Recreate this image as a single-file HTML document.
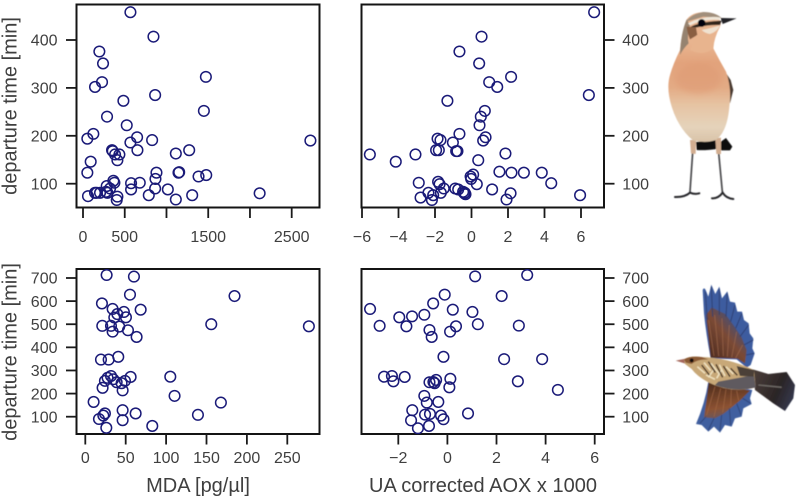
<!DOCTYPE html>
<html lang="en">
<head>
<meta charset="utf-8">
<title>Departure time scatter plots</title>
<style>
html,body{margin:0;padding:0;background:#fff;}
svg{display:block;filter:blur(0.3px);}
text{font-family:"Liberation Sans",sans-serif;fill:#3f3f3f;}
.tick-label{font-size:16px;}
.axis-title{font-size:20px;}
</style>
</head>
<body>
<svg id="chart" width="796" height="498" viewBox="0 0 796 498" xmlns="http://www.w3.org/2000/svg">
  <defs>
    <filter id="soft" x="-10%" y="-10%" width="120%" height="120%"><feGaussianBlur stdDeviation="1.6"/></filter>
    <filter id="softer" x="-30%" y="-30%" width="160%" height="160%"><feGaussianBlur stdDeviation="9"/></filter>
    <linearGradient id="breast" gradientUnits="userSpaceOnUse" x1="0" y1="130" x2="0" y2="425">
      <stop offset="0" stop-color="#e8b48f"/>
      <stop offset="0.2" stop-color="#e2a37c"/>
      <stop offset="0.45" stop-color="#e3ab85"/>
      <stop offset="0.62" stop-color="#e6c3a2"/>
      <stop offset="0.85" stop-color="#e5d3bb"/>
      <stop offset="1" stop-color="#d9c3a8"/>
    </linearGradient>
    <linearGradient id="upper-wing-fill" gradientUnits="userSpaceOnUse" x1="205" y1="250" x2="300" y2="170">
      <stop offset="0" stop-color="#4f2c20"/>
      <stop offset="0.6" stop-color="#7b4a35"/>
      <stop offset="1" stop-color="#4a4f72"/>
    </linearGradient>
    <linearGradient id="lower-wing-fill" gradientUnits="userSpaceOnUse" x1="230" y1="345" x2="250" y2="470">
      <stop offset="0" stop-color="#54301f"/>
      <stop offset="0.55" stop-color="#8c5232"/>
      <stop offset="1" stop-color="#4d5a85"/>
    </linearGradient>
    <linearGradient id="tail-fill" gradientUnits="userSpaceOnUse" x1="345" y1="330" x2="460" y2="380">
      <stop offset="0" stop-color="#463a36"/>
      <stop offset="0.6" stop-color="#2b2526"/>
      <stop offset="1" stop-color="#33364a"/>
    </linearGradient>
  </defs>

  <text class="axis-title" text-anchor="middle" transform="translate(16.5,106) rotate(-90)">departure time [min]</text>
  <text class="axis-title" text-anchor="middle" transform="translate(16.5,352) rotate(-90)">departure time [min]</text>
  <text class="axis-title" text-anchor="middle" x="198" y="492">MDA [pg/µl]</text>
  <text class="axis-title" text-anchor="middle" x="483" y="492">UA corrected AOX x 1000</text>

  <g id="panels"></g>

  <g transform="translate(640,0) scale(0.3333)">
    <g filter="url(#soft)">
      <g stroke="#47474a" fill="none" stroke-linecap="round">
        <path d="M158 458 L150 575" stroke-width="5"/>
        <path d="M236 458 L247 575" stroke-width="5"/>
        <path d="M105 591 Q135 592 150 578 Q165 584 178 580" stroke="#26262a" stroke-width="6"/>
        <path d="M216 595 Q235 596 248 578 Q258 595 280 597" stroke="#26262a" stroke-width="6"/>
      </g>
      <path d="M168 426 L228 420 L230 447 Q195 452 170 450 Z" fill="#0e0e0e"/>
      <path d="M243 425 L258 414 L277 440 L270 451 L243 451 Z" fill="#111"/>
      <path d="M150 420 L168 420 L167 462 L153 460 Z" fill="#d2ad90"/>
      <path d="M226 415 L243 413 L243 462 L229 462 Z" fill="#d2ad90"/>
      <path d="M255 215 L272 240 L280 270 L270 310 L262 260 Z" fill="#4a3b30"/>
      <path d="M140 58 Q124 100 120 150 Q100 190 90 225 Q78 265 95 320 Q115 385 160 422 Q200 430 228 420 Q262 395 268 320 Q276 265 258 215 Q238 180 220 145 Q222 115 240 80 Q250 58 215 40 Q165 28 140 58 Z" fill="url(#breast)"/>
      <path d="M120 165 Q122 100 140 58 L150 75 Q140 110 146 130 Q130 145 120 165 Z" fill="#96836f"/>
      <path d="M137 65 Q155 42 190 36 Q225 36 245 54 L190 50 L150 62 Z" fill="#a18f7c"/>
      <path d="M144 70 Q190 46 240 52 L240 60 Q190 56 150 76 Z" fill="#efe6d8"/>
      <path d="M150 82 Q175 66 245 62 L240 75 Q200 74 172 82 Z" fill="#30271f"/>
      <path d="M185 90 Q215 84 240 76 Q232 95 210 102 Q195 100 185 90 Z" fill="#f0e2d0"/>
      <path d="M140 80 L168 82 L172 105 L150 118 Q142 100 140 80 Z" fill="#8a5e42"/>
      <path d="M170 105 Q195 110 215 100 L220 145 Q190 170 150 150 Z" fill="#e8b48e"/>
      <path d="M242 54 L290 55 L248 72 Z" fill="#222226"/>
      <circle cx="185" cy="69" r="11.5" fill="#060608"/>
      <ellipse cx="175" cy="235" rx="70" ry="45" fill="#df9a73" opacity="0.55" filter="url(#softer)"/>
    </g>
  </g>

  <g transform="translate(640,270) scale(0.3333)">
    <g filter="url(#soft)">
      <path d="M188 60 Q192 50 197 60 L205 80 L214 44 L226 72 L238 50 L246 85 L262 64 L270 95 L285 98 L292 125 L306 125 L312 150 L326 160 L329 190 L340 205 L337 235 L344 250 L332 285 L320 293 L290 268 L212 265 Q198 190 192 130 Z" fill="#3d5c9f"/>
      <path d="M198 135 L215 112 L235 122 L256 132 L281 166 L305 202 L320 240 L315 280 L292 266 L212 263 Z" fill="url(#upper-wing-fill)"/>
      <g stroke="#2d3f70" stroke-width="3" fill="none" opacity="0.9">
        <path d="M196 65 L202 150"/><path d="M214 50 L218 140"/><path d="M238 56 L238 135"/><path d="M262 70 L258 140"/><path d="M285 105 L272 155"/><path d="M306 130 L287 175"/><path d="M326 165 L300 200"/><path d="M340 210 L312 225"/><path d="M342 250 L318 255"/>
      </g>
      <g stroke="#a36c4e" stroke-width="2.5" fill="none" opacity="0.7">
        <path d="M222 258 L206 150"/><path d="M236 258 L224 135"/><path d="M250 258 L246 145"/><path d="M262 260 L268 165"/><path d="M275 262 L290 185"/><path d="M287 264 L308 225"/>
      </g>
      <path d="M205 335 L337 360 L330 385 L335 402 L310 415 L305 440 L285 445 L275 470 L255 465 L240 488 L222 470 L205 485 L185 465 L168 462 Q195 400 205 335 Z" fill="#3f5e9f"/>
      <path d="M206 338 L330 362 L300 392 L275 412 L250 432 L225 445 L192 442 Q200 390 206 338 Z" fill="url(#lower-wing-fill)"/>
      <g stroke="#a56a45" stroke-width="2.5" fill="none" opacity="0.7">
        <path d="M225 350 L200 435"/><path d="M242 355 L222 440"/><path d="M258 358 L248 428"/><path d="M274 360 L272 408"/><path d="M290 362 L296 392"/>
      </g>
      <g stroke="#2f4477" stroke-width="3" fill="none" opacity="0.9">
        <path d="M198 440 L180 460"/><path d="M222 445 L205 480"/><path d="M245 435 L240 482"/><path d="M268 415 L272 465"/><path d="M290 400 L303 435"/><path d="M308 385 L332 400"/>
      </g>
      <path d="M338 298 L385 312 L440 306 L465 345 L460 385 L435 423 L400 400 L345 360 Z" fill="url(#tail-fill)"/>
      <path d="M355 345 L425 352" stroke="#6f6a66" stroke-width="4" fill="none"/>
      <path d="M107 272 L137 266 L136 281 Z" fill="#a5685c"/>
      <path d="M132 268 Q150 257 182 261 Q262 262 342 300 L347 352 Q275 372 205 337 Q170 318 155 297 L135 282 Z" fill="#c8a878"/>
      <path d="M132 268 Q150 257 185 261 L205 268 Q170 268 155 282 L137 278 Z" fill="#8b5a35"/>
      <path d="M235 335 L342 315 L347 352 Q285 368 225 345 Z" fill="#5f5a5e"/>
      <path d="M290 288 L342 300 L342 320 L300 318 Z" fill="#4c4038"/>
      <g stroke="#efe1bf" stroke-width="4.5" fill="none">
        <path d="M172 290 L195 310"/><path d="M192 278 L212 302"/><path d="M213 280 L238 312"/><path d="M238 284 L255 318"/><path d="M258 290 L280 312"/><path d="M198 315 L225 328"/><path d="M222 298 L205 322"/><path d="M245 300 L230 325"/>
      </g>
      <g stroke="#38261a" stroke-width="4" fill="none">
        <path d="M185 285 L208 315"/><path d="M205 275 L226 308"/><path d="M228 283 L248 322"/><path d="M250 288 L270 320"/><path d="M272 295 L292 316"/>
      </g>
      <circle cx="155" cy="271" r="6" fill="#161010"/>
    </g>
  </g>

  <script>
    var mdaTopX = [568,844,196,240,228,144,1472,864,484,1448,288,524,124,52,648,568,828,2724,348,356,652,1272,1112,384,436,412,92,52,880,1152,1144,1384,1476,868,364,376,680,576,284,324,576,864,1016,164,204,292,144,2116,60,412,404,788,1308,1112,276];
    var mdaTopY = [458,407,376,351,312,302,323,285,273,252,240,222,204,194,197,186,191,190,170,168,170,170,163,161,161,149,146,123,123,124,123,115,118,110,106,102,102,101,95,90,88,90,88,81,81,81,81,80,74,73,66,76,76,67,83];
    var aoxTopX = [6.72,0.55,-0.66,0.42,0.97,1.41,2.17,6.43,-1.32,0.73,0.51,0.44,-0.66,-1.86,-1.70,-1.02,0.77,0.64,-1.94,-1.79,-0.84,-0.77,1.86,-5.57,-4.15,-3.07,0.37,1.53,2.19,2.87,3.85,4.37,0.09,-0.05,-0.02,0.29,-2.89,-1.83,-1.75,-1.52,-0.89,-0.73,-0.46,-0.37,-0.33,1.13,-2.36,-2.10,-1.68,2.14,-2.79,-2.17,1.92,5.95,-0.40];
    var aoxTopY = [458,407,376,351,312,302,323,285,273,252,240,222,204,194,191,186,197,190,170,170,168,168,163,161,146,161,149,125,123,123,123,101,119,115,110,99,102,104,99,90,90,88,83,81,78,88,81,76,81,80,71,66,67,76,80];
    var mdaBottomX = [26.4,60.2,55.3,184.7,20.6,33.8,68.5,47.8,39.6,35.9,50.3,155.9,21,31.8,42,276.7,33.8,52.8,63.5,19.4,28.9,40.8,31.8,56.1,105.2,27.6,34.6,24.3,38.8,49.1,44.9,21.4,46.2,110.5,10.3,167.8,46.2,62.3,24.3,22.3,16.9,139.4,46.2,82.9,26];
    var mdaBottomY = [713,706,628,622,590,566,563,553,544,529,530,500,493,493,490,491,468,474,445,347,347,359,276,272,273,268,262,255,249,255,245,225,214,190,164,161,128,114,114,105,90,108,85,60,52];
    var aoxBottomX = [1.13,3.25,-0.11,2.21,-0.58,-3.15,0.22,1.02,-0.94,-1.44,-1.96,1.24,-2.76,-1.67,0.35,2.91,-0.73,0.11,-0.64,-0.16,2.31,3.86,-2.58,-2.26,-1.74,-2.2,-0.46,-0.73,-0.52,-0.57,0.12,2.87,0.08,4.5,-0.94,-0.84,-0.37,-1.43,0.84,-0.91,-0.71,-0.26,-0.16,-1.48,-0.75,-1.2];
    var aoxBottomY = [707,713,628,622,590,566,563,553,541,534,530,500,493,491,491,494,475,468,445,359,349,349,273,276,272,253,259,249,245,250,264,253,227,216,190,161,164,128,114,109,112,105,89,84,60,50];

    var mdaTopTicks = [0,500,1000,1500,2000,2500];
    var mdaTopTickLabels = ["0","500","","1500","","2500"];
    var aoxTopTicks = [-6,-4,-2,0,2,4,6];
    var aoxTopTickLabels = ["−6","−4","−2","0","2","4","6"];
    var mdaBottomTicks = [0,50,100,150,200,250];
    var mdaBottomTickLabels = ["0","50","100","150","200","250"];
    var aoxBottomTicks = [-2,0,2,4,6];
    var aoxBottomTickLabels = ["−2","0","2","4","6"];
    var topYTicks = [100,200,300,400];
    var topYTickLabels = ["100","200","300","400"];
    var bottomYTicks = [100,200,300,400,500,600,700];
    var bottomYTickLabels = ["100","200","300","400","500","600","700"];

    var NS = 'http://www.w3.org/2000/svg';
    var root = document.getElementById('panels');

    function linearScale(v0, p0, v1, p1) {
      return function (v) { return p0 + (v - v0) * (p1 - p0) / (v1 - v0); };
    }

    function addLine(parent, x1, y1, x2, y2) {
      var l = document.createElementNS(NS, 'line');
      
      
      l.setAttribute('x1', x1);
      l.setAttribute('y1', y1);
      l.setAttribute('x2', x2);
      l.setAttribute('y2', y2);
      l.setAttribute('stroke', '#1a1a1a');
      l.setAttribute('stroke-width', '1.8');
      parent.appendChild(l);
    }

    function addLabel(parent, x, y, anchor, str) {
      var t = document.createElementNS(NS, 'text');
      
      
      t.setAttribute('class', 'tick-label');
      t.setAttribute('x', x);
      t.setAttribute('y', y);
      t.setAttribute('text-anchor', anchor);
      t.textContent = str;
      parent.appendChild(t);
    }

    function drawPanel(cfg) {
      var g = document.createElementNS(NS, 'g');
      
      
      root.appendChild(g);

      var box = document.createElementNS(NS, 'rect');
      
      
      box.setAttribute('x', cfg.left);
      box.setAttribute('y', cfg.top);
      box.setAttribute('width', cfg.right - cfg.left);
      box.setAttribute('height', cfg.bottom - cfg.top);
      box.setAttribute('fill', 'none');
      box.setAttribute('stroke', '#141414');
      box.setAttribute('stroke-width', '2');
      g.appendChild(box);

      cfg.xTicks.forEach(function (v, i) {
        var px = cfg.sx(v);
        addLine(g, px, cfg.bottom, px, cfg.bottom + 10.5);
        if (cfg.xLabels[i]) addLabel(g, px, cfg.bottom + cfg.xLabelGap, 'middle', cfg.xLabels[i]);
      });
      cfg.yTicks.forEach(function (v, i) {
        var py = cfg.sy(v);
        if (cfg.yOnRight) {
          addLine(g, cfg.right, py, cfg.right + 10.5, py);
          addLabel(g, cfg.right + 45, py + 5.7, 'end', cfg.yLabels[i]);
        } else {
          addLine(g, cfg.left - 10.5, py, cfg.left, py);
          addLabel(g, cfg.left - 19, py + 5.7, 'end', cfg.yLabels[i]);
        }
      });
      cfg.xs.forEach(function (v, i) {
        var c = document.createElementNS(NS, 'circle');
        
        
        c.setAttribute('cx', cfg.sx(v).toFixed(2));
        c.setAttribute('cy', cfg.sy(cfg.ys[i]).toFixed(2));
        c.setAttribute('r', '5.3');
        c.setAttribute('fill', 'none');
        c.setAttribute('stroke', '#1a1a78');
        c.setAttribute('stroke-width', '1.5');
        g.appendChild(c);
      });
    }

    var topScaleY = linearScale(100, 183.7, 400, 40);
    var bottomScaleY = linearScale(100, 416.7, 700, 278);

    drawPanel({name:'mda-top-panel', left:76.5, right:319.5, top:4.5, bottom:207.5, xLabelGap:34.5,
      sx:linearScale(0, 83, 2500, 291.7), sy:topScaleY, xs:mdaTopX, ys:mdaTopY,
      xTicks:mdaTopTicks, xLabels:mdaTopTickLabels, yTicks:topYTicks, yLabels:topYTickLabels, yOnRight:false});
    drawPanel({name:'aox-top-panel', left:361.5, right:604, top:4.5, bottom:207.5, xLabelGap:34.5,
      sx:linearScale(-6, 362, 6, 581), sy:topScaleY, xs:aoxTopX, ys:aoxTopY,
      xTicks:aoxTopTicks, xLabels:aoxTopTickLabels, yTicks:topYTicks, yLabels:topYTickLabels, yOnRight:true});
    drawPanel({name:'mda-bottom-panel', left:76.5, right:319.5, top:269, bottom:434, xLabelGap:29,
      sx:linearScale(0, 85.3, 250, 287.3), sy:bottomScaleY, xs:mdaBottomX, ys:mdaBottomY,
      xTicks:mdaBottomTicks, xLabels:mdaBottomTickLabels, yTicks:bottomYTicks, yLabels:bottomYTickLabels, yOnRight:false});
    drawPanel({name:'aox-bottom-panel', left:361.5, right:604, top:269, bottom:434, xLabelGap:29,
      sx:linearScale(-2, 398.3, 6, 594.7), sy:bottomScaleY, xs:aoxBottomX, ys:aoxBottomY,
      xTicks:aoxBottomTicks, xLabels:aoxBottomTickLabels, yTicks:bottomYTicks, yLabels:bottomYTickLabels, yOnRight:true});
  </script>
</svg>
</body>
</html>
